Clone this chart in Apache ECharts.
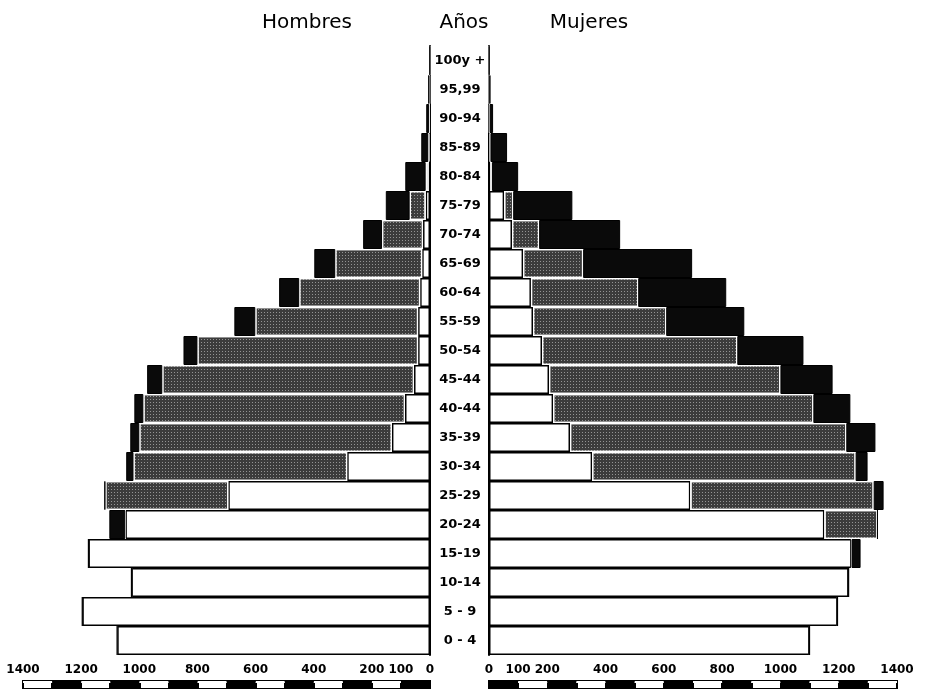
<!DOCTYPE html>
<html><head><meta charset="utf-8">
<script src="https://cdn.jsdelivr.net/npm/echarts@6/dist/echarts.min.js"></script>
<style>html,body{margin:0;padding:0;background:#fff}#c{width:926px;height:694px}</style>
</head><body><div id="c"></div>
<script>
// Age groups, bottom to top
const ages = ['0 - 4','5 - 9','10-14','15-19','20-24','25-29','30-34','35-39','40-44','45-44','50-54','55-59','60-64','65-69','70-74','75-79','80-84','85-89','90-94','95,99','100y +'];
// Hombres (thousands): solteros (white), casados (grey), viudos (black)
const menSingle  = [1076,1196,1027,1175,1048,694,285,131,86,55,41,41,34,27,24,15,5,2,1,1,0];
const menMarried = [0,0,0,0,0,423,735,869,900,866,759,560,416,299,141,55,10,4,2,1,0];
const menWidowed = [0,0,0,0,55,3,25,31,31,52,48,72,69,72,65,82,70,24,10,4,1];
// Mujeres
const womSingle  = [1100,1196,1234,1244,1151,691,354,278,220,206,182,151,144,117,79,52,5,3,1,1,0];
const womMarried = [0,0,0,0,182,629,904,948,893,794,670,457,368,206,93,31,5,2,1,0,0];
const womWidowed = [0,0,0,31,0,34,41,100,127,179,227,268,302,374,278,203,90,57,12,4,1];
// Scale
const scaleMax = 1400;
const scaleStep = 100;

const chart = echarts.init(document.getElementById('c'));
const F = 'DejaVu Sans';
const showLab = v => (v <= 200 || v % 200 === 0) ? String(v) : '';
function bar(name, data, stack, xi, yi, kind) {
  const st = kind === 'w' ? {color:'#fff', borderColor:'#000', borderWidth:1.5}
           : kind === 'g' ? {color:'#3c3c3c', borderColor:'#fff', borderWidth:1.2,
               decal:{symbol:'rect', symbolSize:1, color:'rgba(255,255,255,0.45)', dashArrayX:[1,2], dashArrayY:[1,2], rotation:0}}
           : {color:'#0a0a0a', borderColor:'#000', borderWidth:1};
  return {type:'bar', name, data, stack, xAxisIndex:xi, yAxisIndex:yi,
    barCategoryGap:'0%', itemStyle:st, animation:false, silent:true};
}
const option = {
  animation:false,
  aria:{enabled:false},
  textStyle:{fontFamily:F},
  title:[
    {text:'Hombres', left:302, top:8, textAlign:'center', textStyle:{fontFamily:F, fontSize:20, fontWeight:'normal', color:'#000'}},
    {text:'Años', left:459, top:8, textAlign:'center', textStyle:{fontFamily:F, fontSize:20, fontWeight:'normal', color:'#000'}},
    {text:'Mujeres', left:584, top:8, textAlign:'center', textStyle:{fontFamily:F, fontSize:20, fontWeight:'normal', color:'#000'}}
  ],
  grid:[
    {left:23, right:496, top:46, bottom:39},
    {left:489, right:29, top:46, bottom:39},
    {left:23, right:496, top:681, height:7, show:true, borderColor:'#000', borderWidth:2, backgroundColor:'transparent'},
    {left:489, right:29, top:681, height:7, show:true, borderColor:'#000', borderWidth:2, backgroundColor:'transparent'}
  ],
  xAxis:[
    {gridIndex:0, type:'value', min:0, max:scaleMax, inverse:true, show:false},
    {gridIndex:1, type:'value', min:0, max:scaleMax, show:false},
    {gridIndex:2, type:'value', min:0, max:scaleMax, interval:scaleStep, inverse:true, position:'top',
     axisLine:{show:false}, splitLine:{show:false},
     axisTick:{show:true, length:5, lineStyle:{color:'#000', width:2}},
     splitArea:{show:true, areaStyle:{color:['#000','#fff']}},
     axisLabel:{margin:5, fontSize:12, fontWeight:'bold', color:'#000', formatter:showLab, showMinLabel:true, showMaxLabel:true}},
    {gridIndex:3, type:'value', min:0, max:scaleMax, interval:scaleStep, position:'top',
     axisLine:{show:false}, splitLine:{show:false},
     axisTick:{show:true, length:5, lineStyle:{color:'#000', width:2}},
     splitArea:{show:true, areaStyle:{color:['#000','#fff']}},
     axisLabel:{margin:5, fontSize:12, fontWeight:'bold', color:'#000', formatter:showLab, showMinLabel:true, showMaxLabel:true}}
  ],
  yAxis:[
    {gridIndex:0, type:'category', data:ages, position:'right',
     axisLine:{show:true, lineStyle:{color:'#000', width:2}}, axisTick:{show:false},
     axisLabel:{align:'center', margin:30, fontSize:13, fontWeight:'bold', color:'#000', interval:0}},
    {gridIndex:1, type:'category', data:ages, position:'left',
     axisLine:{show:true, lineStyle:{color:'#000', width:2}}, axisTick:{show:false}, axisLabel:{show:false}},
    {gridIndex:2, type:'value', show:false},
    {gridIndex:3, type:'value', show:false}
  ],
  series:[
    bar('Hombres solteros', menSingle, 'm', 0, 0, 'w'),
    bar('Hombres casados', menMarried, 'm', 0, 0, 'g'),
    bar('Hombres viudos', menWidowed, 'm', 0, 0, 'b'),
    bar('Mujeres solteras', womSingle, 'f', 1, 1, 'w'),
    bar('Mujeres casadas', womMarried, 'f', 1, 1, 'g'),
    bar('Mujeres viudas', womWidowed, 'f', 1, 1, 'b')
  ]
};
chart.setOption(option);
</script>
</body></html>
